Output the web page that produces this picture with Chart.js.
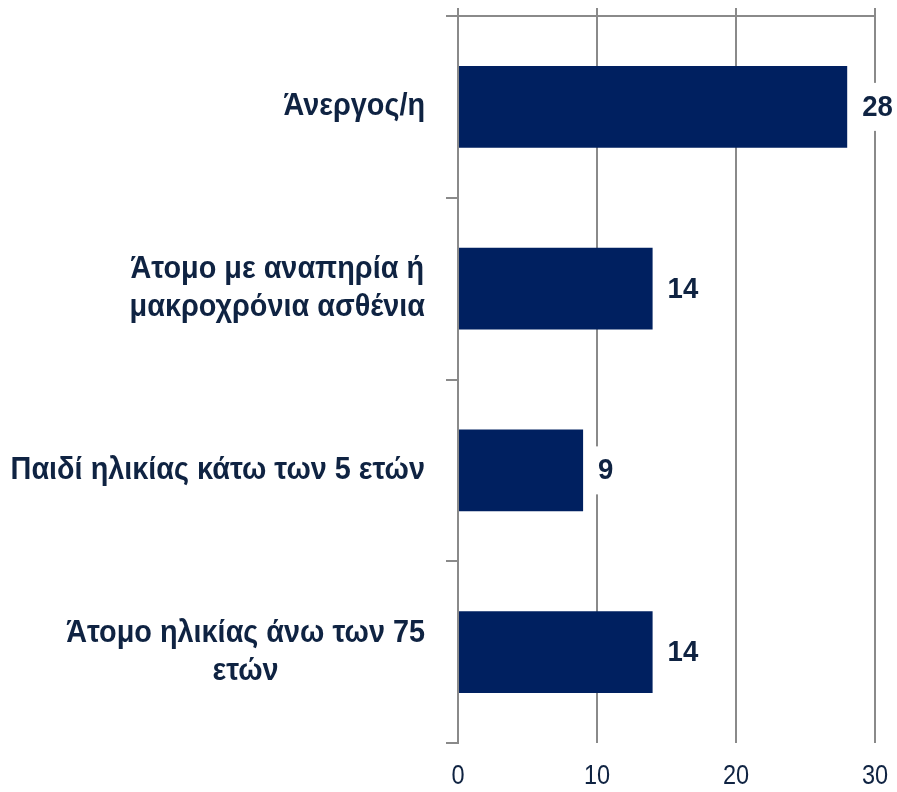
<!DOCTYPE html>
<html>
<head>
<meta charset="utf-8">
<script src="https://cdn.jsdelivr.net/npm/chart.js@4"></script>
<style>
  html, body { margin: 0; padding: 0; background: #fff; }
  #wrap { width: 897px; height: 792px; }
</style>
</head>
<body>
<div id="wrap"><canvas id="chart"></canvas></div>
<script>
const categories = [
  ["Άνεργος/η"],
  ["Άτομο με αναπηρία ή", "μακροχρόνια ασθένια"],
  ["Παιδί ηλικίας κάτω των 5 ετών"],
  ["Άτομο ηλικίας άνω των 75", "ετών"]
];
const values = [28, 14, 9, 14];
const axisMin = 0, axisMax = 30, axisStep = 10;

const navy = '#002060';
const textColor = '#0f2342';
const gridColor = '#8a8a8a';
const fontFamily = '"Liberation Sans", Arial, sans-serif';

// draw text squeezed horizontally (Liberation Sans made to look like Arial Narrow)
function narrowText(ctx, txt, x, y, sx) {
  ctx.save();
  ctx.translate(x, y);
  ctx.scale(sx, 1);
  ctx.fillText(txt, 0, 0);
  ctx.restore();
}

// category labels: block right aligned, lines centred inside the block (Excel style)
const categoryLabels = {
  id: 'categoryLabels',
  afterDraw(chart) {
    const ctx = chart.ctx, y = chart.scales.y;
    const sx = 0.93;
    ctx.save();
    ctx.font = 'bold 31px ' + fontFamily;
    ctx.fillStyle = textColor;
    ctx.textAlign = 'center';
    ctx.textBaseline = 'middle';
    const right = y.right - 33;
    const lh = 38;
    categories.forEach((lines, i) => {
      const w = Math.max(...lines.map(l => ctx.measureText(l).width)) * sx;
      const cx = right - w / 2;
      const cy = y.getPixelForTick(i);
      lines.forEach((l, j) => {
        narrowText(ctx, l, cx, cy + (j - (lines.length - 1) / 2) * lh, sx);
      });
    });
    ctx.restore();
  }
};

// x tick labels, narrow face
const xTickLabels = {
  id: 'xTickLabels',
  afterDraw(chart) {
    const ctx = chart.ctx, x = chart.scales.x;
    ctx.save();
    ctx.font = '28px ' + fontFamily;
    ctx.fillStyle = textColor;
    ctx.textAlign = 'center';
    ctx.textBaseline = 'middle';
    x.ticks.forEach(t => {
      narrowText(ctx, String(t.value), x.getPixelForValue(t.value), chart.chartArea.bottom + 33, 0.84);
    });
    ctx.restore();
  }
};

// value labels at the bar ends, on a white box that hides the gridlines
const valueLabels = {
  id: 'valueLabels',
  afterDatasetsDraw(chart) {
    const ctx = chart.ctx;
    const meta = chart.getDatasetMeta(0);
    const sx = 0.95;
    ctx.save();
    ctx.font = 'bold 29px ' + fontFamily;
    ctx.textBaseline = 'middle';
    ctx.textAlign = 'left';
    meta.data.forEach((bar, i) => {
      const txt = String(values[i]);
      const w = ctx.measureText(txt).width * sx;
      const x = bar.x + 15;
      ctx.fillStyle = '#fff';
      ctx.fillRect(x - 8, bar.y - 24, w + 16, 48);
      ctx.fillStyle = textColor;
      narrowText(ctx, txt, x, bar.y + 1, sx);
    });
    ctx.restore();
  }
};

new Chart(document.getElementById('chart'), {
  type: 'bar',
  data: {
    labels: categories.map(c => c.join(' ')),
    datasets: [{
      data: values,
      backgroundColor: navy,
      categoryPercentage: 1,
      barPercentage: 0.45
    }]
  },
  options: {
    indexAxis: 'y',
    responsive: true,
    maintainAspectRatio: false,
    animation: false,
    layout: { padding: { top: 8, right: 22, bottom: 0, left: 0 } },
    plugins: { legend: { display: false }, tooltip: { enabled: false } },
    scales: {
      x: {
        position: 'bottom',
        min: axisMin, max: axisMax,
        ticks: { display: false, stepSize: axisStep },
        grid: { color: gridColor, lineWidth: 2, drawTicks: false },
        border: { display: false },
        afterFit(s) { s.height = 49; s.paddingLeft = 0; s.paddingRight = 0; }
      },
      x2: {
        axis: 'x',
        position: 'top',
        min: axisMin, max: axisMax,
        ticks: { display: false, stepSize: axisStep },
        grid: { drawOnChartArea: false, tickLength: 8, color: gridColor, lineWidth: 2 },
        border: { display: true, color: gridColor, width: 2 },
        afterFit(s) { s.paddingLeft = 0; s.paddingRight = 0; }
      },
      y: {
        ticks: { display: false },
        grid: { drawOnChartArea: false, offset: true, tickLength: 12, color: gridColor, lineWidth: 2 },
        border: { color: gridColor, width: 2 },
        afterFit(s) { s.width = 458; }
      }
    }
  },
  plugins: [categoryLabels, xTickLabels, valueLabels]
});
</script>
</body>
</html>
